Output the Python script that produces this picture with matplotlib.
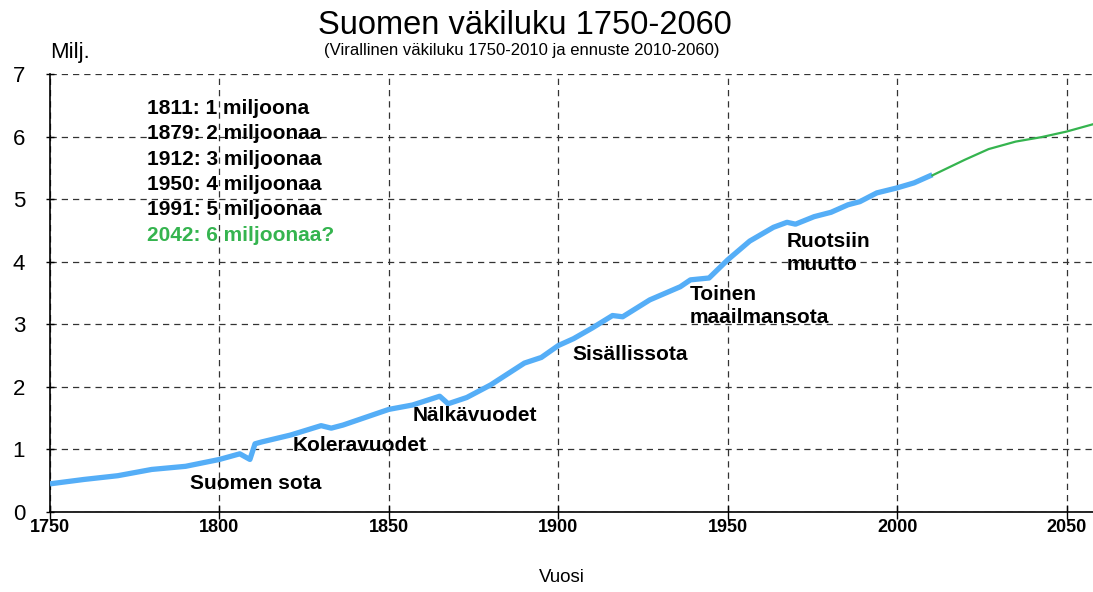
import matplotlib
matplotlib.use("Agg")
import matplotlib.pyplot as plt

plt.rcParams['font.family'] = ['Liberation Sans', 'DejaVu Sans']

# official population (millions)
years = [1750, 1760, 1770, 1780, 1790, 1800, 1806, 1809, 1810.5, 1812.5, 1821,
         1830, 1833, 1836.5, 1850, 1857, 1865, 1867.5, 1873, 1880, 1890, 1895,
         1900, 1904.5, 1910, 1916, 1919, 1927, 1936, 1939, 1944.5, 1950,
         1956.5, 1963.5, 1967.5, 1970, 1975.5, 1980.5, 1985.5, 1989, 1994,
         2000, 2005, 2010.4]
population = [0.45, 0.52, 0.58, 0.68, 0.73, 0.84, 0.93, 0.84, 1.09, 1.12, 1.23,
              1.38, 1.34, 1.39, 1.64, 1.71, 1.85, 1.73, 1.83, 2.03, 2.38, 2.47,
              2.66, 2.77, 2.94, 3.14, 3.12, 3.39, 3.60, 3.71, 3.74, 4.03,
              4.33, 4.55, 4.63, 4.60, 4.72, 4.79, 4.91, 4.96, 5.10,
              5.18, 5.26, 5.39]

# projection 2010-2060
proj_years = [2010.4, 2015, 2020, 2027, 2035, 2042.5, 2050, 2058]
proj_pop = [5.38, 5.50, 5.63, 5.80, 5.92, 5.99, 6.08, 6.20]

milestones = ["1811: 1 miljoona", "1879: 2 miljoonaa", "1912: 3 miljoonaa",
              "1950: 4 miljoonaa", "1991: 5 miljoonaa"]
forecast_note = "2042: 6 miljoonaa?"

events = [("Suomen sota", 1810.8, 0.45),
          ("Koleravuodet", 1841.5, 1.07),
          ("Nälkävuodet", 1875.5, 1.55),
          ("Sisällissota", 1921.3, 2.52)]
events_left = [("Toinen\nmaailmansota", 1938.7, 3.29),
               ("Ruotsiin\nmuutto", 1967.4, 4.14)]

fig = plt.figure(figsize=(10.93, 5.92), dpi=100)
ax = fig.add_axes([50 / 1093, 80 / 592, 1 - 50 / 1093, 438 / 592])

ax.plot(years, population, color='#55AEF7', linewidth=3.8, solid_capstyle='butt', zorder=3)
ax.plot(proj_years, proj_pop, color='#35B44F', linewidth=1.6, zorder=3)

ax.set_xlim(1750, 2057.8)
ax.set_ylim(0, 7)
ax.set_xticks(range(1750, 2051, 50))
ax.set_yticks(range(0, 8))
ax.grid(True, linestyle=(0, (5, 4)), color='#333333', linewidth=0.9)
ax.set_axisbelow(True)

for s in ['top', 'right']:
    ax.spines[s].set_visible(False)
ax.spines['left'].set_linewidth(1.2)
ax.spines['bottom'].set_linewidth(1.2)

ax.tick_params(axis='x', direction='inout', length=10, width=1, labelsize=13, pad=0)
ax.tick_params(axis='y', direction='inout', length=6, width=1, labelsize=16, pad=15)
for lab in ax.get_xticklabels():
    lab.set_fontweight('bold')

# milestone list
for i, t in enumerate(milestones):
    ax.text(1778.6, 6.45 - i * 0.405, t, fontsize=15, fontweight='bold', ha='left', va='center')
ax.text(1778.6, 6.45 - 5 * 0.405, forecast_note, fontsize=15, fontweight='bold',
        color='#35B44F', ha='left', va='center')

for t, x, y in events:
    ax.text(x, y, t, fontsize=15, fontweight='bold', ha='center', va='center')
for t, x, y in events_left:
    ax.text(x, y, t, fontsize=15, fontweight='bold', ha='left', va='center', linespacing=1.25)

fig.text(0.48, 0.957, "Suomen väkiluku 1750-2060", fontsize=23.5, ha='center', va='center')
fig.text(0.477, 0.914, "(Virallinen väkiluku 1750-2010 ja ennuste 2010-2060)", fontsize=12,
         ha='center', va='center')
fig.text(50 / 1093, 0.912, "Milj.", fontsize=16, ha='left', va='center')
fig.text(0.514, 0.024, "Vuosi", fontsize=13.5, ha='center', va='center')

fig.savefig("out.png", dpi=100)
